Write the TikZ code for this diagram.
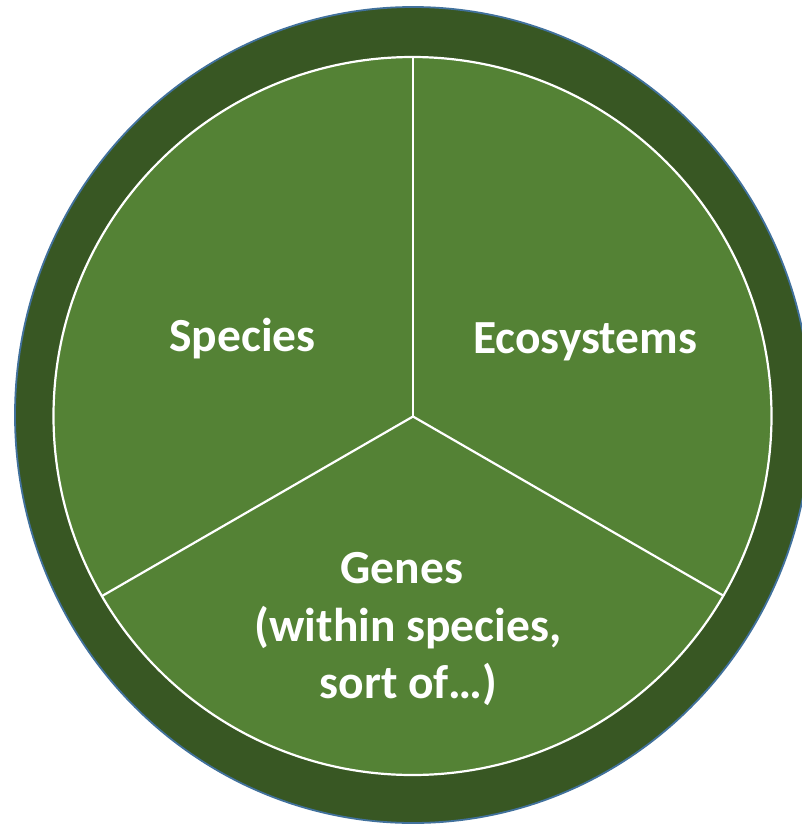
\documentclass[tikz,border=0pt]{standalone}
\usepackage{fontspec}
\setmainfont{Carlito}
\usetikzlibrary{calc}
\definecolor{outergreen}{HTML}{385723}
\definecolor{innergreen}{HTML}{548235}
\definecolor{rimblue}{HTML}{41719C}
\begin{document}
\begin{tikzpicture}[x=1pt,y=-1pt,
  label/.style={text=white,font=\fontsize{47.5}{55}\selectfont\bfseries,inner sep=0pt,anchor=base},
  divider/.style={draw=white,line width=2.2pt}]
\useasboundingbox (0,0) rectangle (801,825);
\fill[outergreen,draw=rimblue,line width=1.8pt] (413,415) ellipse [x radius=398,y radius=408];
\fill[innergreen,draw=white,line width=2.2pt] (412.5,416) circle [radius=359];
\coordinate (c) at (413,416.5);
\coordinate (top) at ($(c)+(0,-359)$);
\coordinate (left) at ($(c)+(-310.9,179.5)$);
\coordinate (right) at ($(c)+(310.9,179.5)$);
\draw[divider] (c) -- (top);
\draw[divider] (c) -- (left);
\draw[divider] (c) -- (right);
\node[label] (species) at (242.5,351) {Species};
\node[label] (eco) at (585,353) {Ecosystems};
\node[label] (genes1) at (402,583) {Genes};
\node[label] (genes2) at (408,641) {(within species,};
\node[label] (genes3) at (408.5,698) {sort of…)};
\end{tikzpicture}
\end{document}
